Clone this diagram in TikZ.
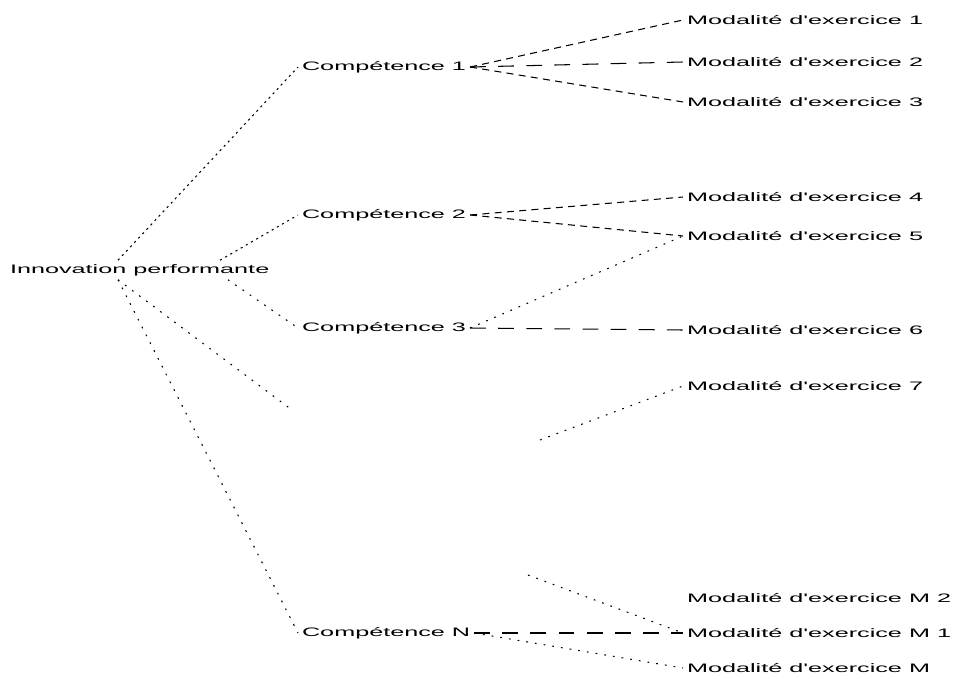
\documentclass[tikz,border=0pt]{standalone}
\usepackage{fontspec}
\setmainfont{Liberation Sans}
\newfontfamily\widesans[FakeStretch=2.05]{Liberation Sans}
\usetikzlibrary{calc}
\tikzset{
  every picture/.style={line width=0.6pt},
  txt/.style={font=\widesans\fontsize{7}{8}\selectfont, inner sep=2pt, anchor=west},
  link/.style={draw=black, line width=0.6pt},
  fine/.style={link, dash pattern=on 1.2pt off 2.2pt},
  sparse/.style={link, dash pattern=on 1pt off 4pt},
  dashes/.style={link, dash pattern=on 4pt off 3pt},
  longdash/.style={link, dash pattern=on 9pt off 7pt},
}

\begin{document}
\begin{tikzpicture}[x=0.02cm, y=-0.02cm]
  \useasboundingbox (0,0) rectangle (953,679);
  \node[txt] (root) at (6,270) {Innovation performante};
  \node[txt] (c1) at (298,67) {Compétence 1};
  \node[txt] (c2) at (298,215) {Compétence 2};
  \node[txt] (c3) at (298,328) {Compétence 3};
  \node[txt] (cn) at (298,633) {Compétence N};
  \coordinate (c4) at (292,410);
  \coordinate (s7) at (540,440);
  \coordinate (sb) at (528,575);
  \foreach \name/\y/\lab in {m1/20/1, m2/62/2, m3/102/3, m4/197/4, m5/236/5, m6/330/6, m7/386/7, mb/598/M 2, ma/633/M 1, mm/668/M}
    \node[txt] (\name) at (683,\y) {Modalité d'exercice \lab};
  % root to skills
  \draw[fine] ([shift={(112,0)}]root.north west) -- (c1.west);
  \draw[fine] ([shift={(214,0)}]root.north west) -- (c2.west);
  \draw[sparse] ([shift={(222,0)}]root.south west) -- (c3.west);
  \draw[sparse] ([shift={(112,0)}]root.south west) -- (c4);
  \draw[sparse] ([shift={(112,0)}]root.south west) -- (cn.west);
  % skills to modes
  \draw[dashes] (c1.east) -- (m1.west);
  \draw[longdash] (c1.east) -- (m2.west);
  \draw[dashes] (c1.east) -- (m3.west);
  \draw[dashes] (c2.east) -- (m4.west);
  \draw[dashes] (c2.east) -- (m5.west);
  \draw[sparse] (c3.east) -- (m5.west);
  \draw[longdash] (c3.east) -- (m6.west);
  \draw[sparse] (s7) -- (m7.west);
  \draw[sparse] (sb) -- (ma.west);
  \draw[longdash] (cn.east) -- (ma.west);
  \draw[sparse] (cn.east) -- (mm.west);
\end{tikzpicture}
\end{document}
